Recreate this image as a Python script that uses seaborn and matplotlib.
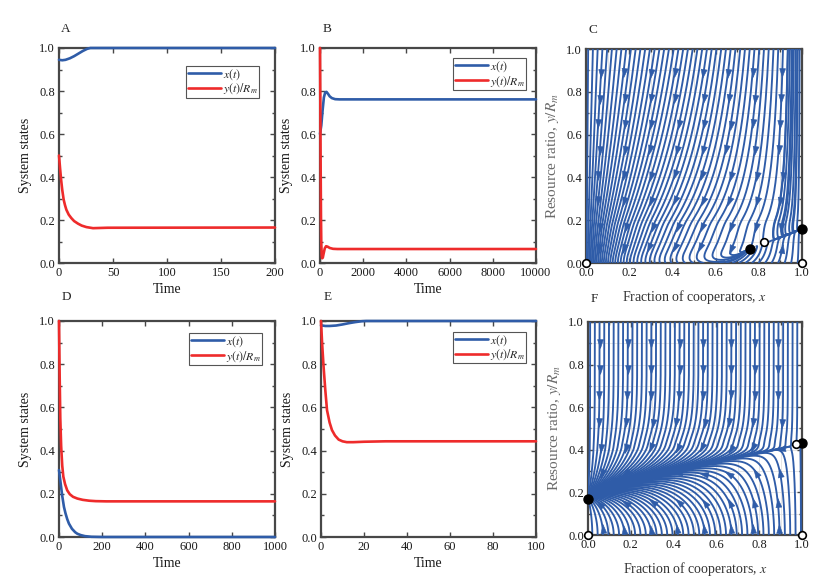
import numpy as np
import matplotlib
matplotlib.use('Agg')
import matplotlib.pyplot as plt
import seaborn as sns
from matplotlib.ticker import MultipleLocator, FormatStrFormatter

# ---------------------------------------------------------
# time series
# ---------------------------------------------------------
A_T_X = [0, 3, 6, 10, 14, 18, 22, 26, 29, 50, 200]
A_X = [0.945, 0.943, 0.945, 0.952, 0.962, 0.974, 0.986, 0.996, 1.0, 1.0, 1.0]
A_T_Y = [0, 1, 2, 3, 4.3, 5.5, 6.8, 9, 11.4, 14, 17.6, 21, 25.4, 31.5, 45, 200]
A_Y = [0.50, 0.44, 0.385, 0.34, 0.295, 0.27, 0.248, 0.225, 0.209, 0.195,
       0.183, 0.174, 0.167, 0.162, 0.164, 0.165]

B_T_X = [0, 60, 120, 180, 240, 300, 370, 450, 550, 700, 900, 10000]
B_X = [0.60, 0.64, 0.71, 0.77, 0.793, 0.796, 0.787, 0.775, 0.767, 0.762, 0.761, 0.761]
B_T_Y = [0, 15, 30, 45, 60, 80, 100, 130, 170, 220, 280, 350, 450, 600, 800, 10000]
B_Y = [1.0, 0.75, 0.45, 0.22, 0.09, 0.035, 0.022, 0.025, 0.045, 0.068,
       0.078, 0.076, 0.07, 0.066, 0.065, 0.065]

D_T_X = [0, 5, 10, 15, 23, 30, 38, 46, 60, 75, 85, 100, 120, 150, 200, 1000]
D_X = [0.31, 0.27, 0.23, 0.19, 0.139, 0.11, 0.083, 0.062, 0.038, 0.022,
       0.015, 0.009, 0.004, 0.001, 0.0, 0.0]
D_T_Y = [0, 3, 6, 10, 15, 20, 28, 38, 50, 65, 85, 110, 140, 170, 220, 1000]
D_Y = [1.0, 0.75, 0.55, 0.42, 0.33, 0.28, 0.245, 0.216, 0.198, 0.186,
       0.178, 0.172, 0.168, 0.166, 0.165, 0.165]

E_T_X = [0, 2, 4, 7, 10, 13, 16, 19, 21, 100]
E_X = [0.98, 0.977, 0.977, 0.979, 0.984, 0.99, 0.995, 0.999, 1.0, 1.0]
E_T_Y = [0, 0.5, 1.2, 2, 2.8, 4, 5.1, 6.5, 8.2, 10, 12, 15, 20, 30, 100]
E_Y = [1.0, 0.9, 0.788, 0.68, 0.587, 0.53, 0.495, 0.47, 0.451, 0.443,
       0.439, 0.439, 0.441, 0.443, 0.443]

# fixed points of the phase portraits
C_STABLE_X = [1.0, 0.76]
C_STABLE_Y = [0.16, 0.067]
C_OPEN_X = [0.0, 1.0, 0.825]
C_OPEN_Y = [0.0, 0.0, 0.098]
F_STABLE_X = [0.0, 1.0]
F_STABLE_Y = [0.17, 0.433]
F_OPEN_X = [0.0, 1.0, 0.97]
F_OPEN_Y = [0.0, 0.0, 0.427]

# vector field parameters (chosen so the fixed points sit where drawn)
C_A, C_B = 3.0, 4.0
C_R0, C_R1 = -0.2275, 0.3875
C_YN = 0.067
C_S = [0.76, 3.5, -58.9, 440.0]
C_SMAX = 1.3
F_A, F_B = 12.0, 1.5
F_R0, F_R1 = 0.17, 0.26
F_S0, F_S2, F_YS, F_SMAX = 0.955, 246.0, 0.43, 1.3

BLUE = '#2f5ca8'
RED = '#ee2b2b'
SPINE = '#474747'


def field_c(x, y):
    u = y - C_YN
    s = np.minimum(C_S[0] + C_S[1] * u + C_S[2] * u ** 2 + C_S[3] * u ** 3, C_SMAX)
    dx = C_A * x * (1 - x) * y * (x - s)
    dy = C_B * y * (C_R0 + C_R1 * x - y)
    return dx, dy


def field_f(x, y):
    s = np.minimum(F_S0 + F_S2 * (y - F_YS) ** 2, F_SMAX)
    dx = F_A * x * (1 - x) * y ** 2 * (1 - y) ** 4 * (x - s)
    dy = F_B * y * (F_R0 + F_R1 * x - y)
    return dx, dy


def rk4_paths(field, x0, y0, dt, n_steps):
    x = np.array(x0, float)
    y = np.array(y0, float)
    xs, ys = [x.copy()], [y.copy()]
    for _ in range(n_steps):
        k1x, k1y = field(x, y)
        k2x, k2y = field(x + 0.5 * dt * k1x, y + 0.5 * dt * k1y)
        k3x, k3y = field(x + 0.5 * dt * k2x, y + 0.5 * dt * k2y)
        k4x, k4y = field(x + dt * k3x, y + dt * k3y)
        x = np.clip(x + dt / 6 * (k1x + 2 * k2x + 2 * k3x + k4x), 0, 1)
        y = np.clip(y + dt / 6 * (k1y + 2 * k2y + 2 * k3y + k4y), 0, 1)
        xs.append(x.copy())
        ys.append(y.copy())
    return np.array(xs), np.array(ys)


def by_arclength(xp, yp, step=0.004):
    d = np.hypot(np.diff(xp), np.diff(yp))
    keep = np.concatenate([[True], d > 1e-7])
    xp, yp = xp[keep], yp[keep]
    s = np.concatenate([[0], np.cumsum(np.hypot(np.diff(xp), np.diff(yp)))])
    if s[-1] < step:
        return xp, yp
    si = np.linspace(0, s[-1], int(s[-1] / step) + 1)
    return np.interp(si, s, xp), np.interp(si, s, yp)


def arrow_marker(theta):
    base = np.array([[1.0, 0.0], [-0.8, 0.6], [-0.8, -0.6], [1.0, 0.0]])
    c, s = np.cos(theta), np.sin(theta)
    rot = np.array([[c, -s], [s, c]])
    return base @ rot.T


sns.set_theme(style='ticks')
plt.rcParams.update({
    'font.family': ['Liberation Serif', 'DejaVu Serif'],
    'mathtext.fontset': 'stix',
    'font.size': 9,
    'axes.labelsize': 10,
    'xtick.labelsize': 9,
    'ytick.labelsize': 9,
    'legend.fontsize': 8.5,
    'axes.edgecolor': SPINE,
    'axes.linewidth': 1.6,
    'xtick.color': SPINE,
    'ytick.color': SPINE,
    'xtick.labelcolor': '#1a1a1a',
    'ytick.labelcolor': '#1a1a1a',
    'axes.labelcolor': '#1a1a1a',
})

W, H = 831, 584
fig = plt.figure(figsize=(W / 100, H / 100), dpi=100)


def add_ax(l, t, w, h):
    return fig.add_axes([l / W, 1 - (t + h) / H, w / W, h / H])


def frame(ax, xmax, xstep, xminor=None):
    ax.set_xlim(0, xmax)
    ax.set_ylim(0, 1)
    ax.xaxis.set_major_locator(MultipleLocator(xstep))
    if xminor:
        ax.xaxis.set_minor_locator(MultipleLocator(xminor))
    ax.yaxis.set_major_locator(MultipleLocator(0.2))
    ax.yaxis.set_minor_locator(MultipleLocator(0.1))
    ax.yaxis.set_major_formatter(FormatStrFormatter('%.1f'))
    ax.tick_params(which='both', direction='in', top=True, right=True, pad=3)
    ax.tick_params(which='major', length=3.5, width=1.0)
    ax.tick_params(which='minor', length=2.5, width=1.0)
    for sp in ax.spines.values():
        sp.set_zorder(2)


def time_panel(ax, letter, tx, xv, ty, yv, xmax, xstep, anchor, ly):
    sns.lineplot(x=tx, y=xv, ax=ax, color=BLUE, linewidth=1.9,
                 label=r'$x(t)$', estimator=None)
    sns.lineplot(x=ty, y=yv, ax=ax, color=RED, linewidth=1.9,
                 label=r'$y(t)/R_m$', estimator=None)
    for ln in ax.lines:
        ln.set_clip_on(False)
        ln.set_zorder(3)
    frame(ax, xmax, xstep)
    ax.set_xlabel('Time', labelpad=3)
    ax.set_ylabel('System states', labelpad=5)
    leg = ax.legend(loc='upper right', bbox_to_anchor=anchor, borderaxespad=0,
                    frameon=True, fancybox=False, edgecolor='#555555',
                    framealpha=1, borderpad=0.1, handlelength=2.8,
                    handletextpad=0.2, labelspacing=0.0)
    leg.get_frame().set_linewidth(0.8)
    ax.text(0.01, ly, letter, transform=ax.transAxes, fontsize=9.5,
            va='center', ha='left')


ARROW_COLS = [0.06, 0.18, 0.30, 0.42, 0.54, 0.66, 0.78, 0.90]


def phase_panel(ax, letter, field, sx, sy, dt, n_steps, rows,
                stable_x, stable_y, open_x, open_y, ly):
    ax.grid(which='both', color='#e2e2e2', linewidth=0.6)
    ax.set_axisbelow(True)
    px, py = rk4_paths(field, sx, sy, dt, n_steps)
    all_pts = []
    for i in range(px.shape[1]):
        lx, ly_ = by_arclength(px[:, i], py[:, i])
        ax.plot(lx, ly_, color=BLUE, lw=1.35, zorder=3, solid_capstyle='round')
        all_pts.append(np.column_stack([lx, ly_]))
    pts = np.vstack(all_pts)
    fixed = np.column_stack([stable_x + open_x, stable_y + open_y])
    for gy in rows:
        for gx in ARROW_COLS:
            d = np.hypot(pts[:, 0] - gx, pts[:, 1] - gy)
            j = np.argmin(d)
            if d[j] > 0.025:
                continue
            qx, qy = pts[j]
            if np.min(np.hypot(fixed[:, 0] - qx, fixed[:, 1] - qy)) < 0.06:
                continue
            u, v = field(np.array(qx), np.array(qy))
            if u == 0 and v == 0:
                continue
            ax.plot(qx, qy, ls='none', marker=arrow_marker(np.arctan2(v, u)),
                    ms=7, color=BLUE, mec=BLUE, mew=0.4, zorder=4)
    ax.plot(stable_x, stable_y, 'o', ms=6.5, color='black', clip_on=False, zorder=6)
    ax.plot(open_x, open_y, 'o', ms=5.5, mfc='white', mec='black', mew=1.2,
            clip_on=False, zorder=6)
    frame(ax, 1.0, 0.2, 0.1)
    ax.xaxis.set_major_formatter(FormatStrFormatter('%.1f'))
    ax.set_xlabel(r'Fraction of cooperators, $x$', labelpad=6, color='#333333',
                  fontsize=10)
    ax.set_ylabel(r'Resource ratio, $y/R_m$', labelpad=4, color='#6a6a6a',
                  fontsize=11)
    ax.text(0.01, ly, letter, transform=ax.transAxes, fontsize=9.5,
            va='center', ha='left')


ax_a = add_ax(59, 48, 216, 215)
ax_b = add_ax(320, 48, 216, 215)
ax_c = add_ax(586, 49, 216, 214)
ax_d = add_ax(59, 321, 216, 216)
ax_e = add_ax(321, 321, 215, 216)
ax_f = add_ax(588, 322, 214, 213)

time_panel(ax_a, 'A', A_T_X, A_X, A_T_Y, A_Y, 200, 50, (0.926, 0.916), 1.09)
time_panel(ax_b, 'B', B_T_X, B_X, B_T_Y, B_Y, 10000, 2000, (0.954, 0.953), 1.09)
time_panel(ax_d, 'D', D_T_X, D_X, D_T_Y, D_Y, 1000, 200, (0.94, 0.944), 1.11)
time_panel(ax_e, 'E', E_T_X, E_X, E_T_Y, E_Y, 100, 20, (0.954, 0.95), 1.11)

top_x = np.arange(0.01, 1.0, 0.022)
c_top = np.concatenate([top_x, np.arange(0.935, 0.995, 0.009)])
c_bot = np.arange(0.62, 1.0, 0.03)
phase_panel(ax_c, 'C', field_c,
            np.concatenate([c_top, c_bot]),
            np.concatenate([np.full(c_top.size, 1.0), np.full(c_bot.size, 0.002)]),
            0.01, 6000, [0.89, 0.77, 0.65, 0.53, 0.41, 0.29, 0.17, 0.07],
            C_STABLE_X, C_STABLE_Y, C_OPEN_X, C_OPEN_Y, 1.09)

f_bot = np.arange(0.02, 1.0, 0.025)
phase_panel(ax_f, 'F', field_f,
            np.concatenate([top_x, f_bot]),
            np.concatenate([np.full(top_x.size, 1.0), np.full(f_bot.size, 0.002)]),
            0.04, 2500, [0.90, 0.78, 0.66, 0.53, 0.41, 0.29, 0.15, 0.025],
            F_STABLE_X, F_STABLE_Y, F_OPEN_X, F_OPEN_Y, 1.11)

fig.savefig('out.png', dpi=100)
